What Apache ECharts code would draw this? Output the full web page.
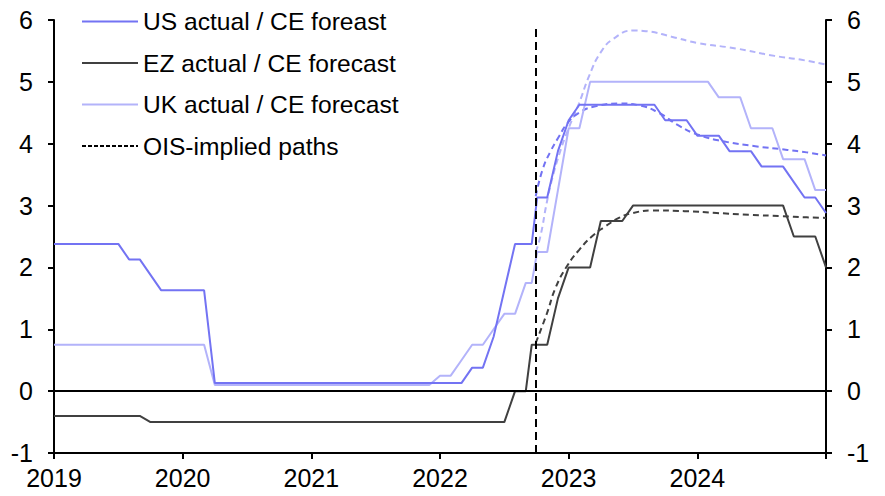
<!DOCTYPE html>
<html>
<head>
<meta charset="utf-8">
<script src="https://cdn.jsdelivr.net/npm/echarts@6/dist/echarts.min.js"></script>
<style>
html,body{margin:0;padding:0;background:#fff;}
#chart{width:885px;height:496px;}
</style>
</head>
<body>
<div id="chart"></div>
<script>
// ---- data (dates: 'YYYY-MM' = end of that month, or decimal year) ----
const legendNames = ['US actual / CE foreast', 'EZ actual / CE forecast', 'UK actual / CE forecast', 'OIS-implied paths'];
const xTicks = [2019, 2020, 2021, 2022, 2023, 2024];
const forecastDate = 2022.744;

const usDates = ['2018-12','2019-06','2019-07','2019-08','2019-09','2019-10','2020-02','2020-03','2022-02','2022-03','2022-04','2022-05','2022-06','2022-07','2022-08',2022.713,2022.755,'2022-10','2022-11','2022-12','2023-01','2023-08','2023-09','2023-11','2023-12','2024-02','2024-03','2024-05','2024-06','2024-08','2024-09','2024-10','2024-11','2024-12'];
const usValues = [2.38,2.38,2.13,2.13,1.88,1.63,1.63,0.13,0.13,0.38,0.38,0.88,1.63,2.38,2.38,2.38,3.13,3.13,3.88,4.38,4.63,4.63,4.38,4.38,4.13,4.13,3.88,3.88,3.63,3.63,3.38,3.13,3.13,2.88];

const ezDates = ['2018-12','2019-08','2019-09','2022-06','2022-07','2022-08',2022.713,'2022-10','2022-11','2022-12','2023-02','2023-03','2023-05','2023-06','2024-08','2024-09','2024-11','2024-12'];
const ezValues = [-0.4,-0.4,-0.5,-0.5,0,0,0.75,0.75,1.5,2.0,2.0,2.75,2.75,3.0,3.0,2.5,2.5,2.0];

const ukDates = ['2018-12','2020-02','2020-03','2021-11','2021-12','2022-01','2022-02','2022-03','2022-04','2022-05','2022-06','2022-07','2022-08',2022.713,2022.755,'2022-10','2022-11','2022-12','2023-01','2023-02','2024-01','2024-02','2024-04','2024-05','2024-07','2024-08','2024-10','2024-11','2024-12'];
const ukValues = [0.75,0.75,0.1,0.1,0.25,0.25,0.5,0.75,0.75,1.0,1.25,1.25,1.75,1.75,2.25,2.25,3.25,4.25,4.25,5.0,5.0,4.75,4.75,4.25,4.25,3.75,3.75,3.25,3.25];

const usOisDates = [2022.744,2022.80,2022.86,2022.92,2022.99,2023.08,2023.20,2023.40,2023.55,2023.70,2023.85,2024.00,2024.20,2024.45,2024.70,2024.85,2025.00];
const usOisValues = [3.15,3.60,3.88,4.10,4.33,4.50,4.60,4.65,4.62,4.50,4.30,4.15,4.04,3.96,3.90,3.86,3.81];

const ukOisDates = [2022.744,2022.78,2022.83,2022.87,2022.93,2022.99,2023.08,2023.16,2023.25,2023.35,2023.50,2023.60,2023.80,2024.00,2024.30,2024.60,2024.80,2025.00];
const ukOisValues = [2.25,2.50,3.05,3.42,3.85,4.20,4.65,5.10,5.48,5.70,5.83,5.82,5.73,5.63,5.54,5.42,5.36,5.28];

const ezOisDates = [2022.744,2022.83,2022.90,2022.99,2023.08,2023.18,2023.29,2023.39,2023.50,2023.65,2023.90,2024.15,2024.40,2024.65,2024.85,2025.00];
const ezOisValues = [0.78,1.25,1.68,2.03,2.28,2.50,2.67,2.80,2.88,2.92,2.91,2.88,2.85,2.83,2.81,2.80];

// ---- helpers ----
function toYear(d){
  if (typeof d === 'number') return d;
  const p = d.split('-');
  return Number(p[0]) + Number(p[1]) / 12;
}
function zip(dates, values){ return dates.map((d,i) => [toYear(d), values[i]]); }

const US = '#7373F3', EZ = '#404040', UK = '#B3B3FA';
const FONT = 'Liberation Sans, Arial, sans-serif';
const FS = 25;

const yAxisBase = {
  type: 'value', min: -1, max: 6, interval: 1,
  axisLine: {show: true, onZero: false, lineStyle: {color: '#000', width: 2}},
  axisTick: {show: true, inside: false, length: 6, lineStyle: {color: '#000', width: 2}},
  axisLabel: {color: '#000', fontSize: FS, fontFamily: FONT, margin: 21},
  splitLine: {show: false}
};

const chart = echarts.init(document.getElementById('chart'), null, {renderer: 'svg'});
chart.setOption({
  animation: false,
  backgroundColor: '#fff',
  grid: {left: 54, right: 59, top: 20, bottom: 43, containLabel: false},
  legend: {
    data: legendNames,
    orient: 'vertical', left: 81, top: 9, padding: 0,
    itemWidth: 56, itemHeight: 14, itemGap: 16.5,
    itemStyle: {opacity: 0},
    textStyle: {color: '#000', fontSize: 24.6, fontFamily: FONT, lineHeight: 25},
    selectedMode: false
  },
  xAxis: {
    type: 'value', min: 2019, max: 2025, interval: 1,
    axisLine: {show: true, onZero: false, lineStyle: {color: '#000', width: 2}},
    axisTick: {show: true, length: 6, lineStyle: {color: '#000', width: 2}},
    axisLabel: {color: '#000', fontSize: FS, fontFamily: FONT, margin: 12,
      formatter: v => xTicks.indexOf(v) >= 0 ? String(v) : ''},
    splitLine: {show: false}
  },
  yAxis: [
    Object.assign({}, yAxisBase, {position: 'left'}),
    Object.assign({}, yAxisBase, {position: 'right'})
  ],
  series: [
    {name: 'UK OIS', type: 'line', data: zip(ukOisDates, ukOisValues), symbol: 'none', smooth: true,
      lineStyle: {color: UK, width: 2, type: [6,4]}, itemStyle: {color: UK}, z: 2},
    {name: 'EZ OIS', type: 'line', data: zip(ezOisDates, ezOisValues), symbol: 'none', smooth: true,
      lineStyle: {color: EZ, width: 2, type: [6,4]}, itemStyle: {color: EZ}, z: 2},
    {name: 'US OIS', type: 'line', data: zip(usOisDates, usOisValues), symbol: 'none', smooth: true,
      lineStyle: {color: US, width: 2, type: [6,4]}, itemStyle: {color: US}, z: 2},
    {name: legendNames[2], type: 'line', data: zip(ukDates, ukValues), symbol: 'none',
      lineStyle: {color: UK, width: 2}, itemStyle: {color: UK}, z: 3},
    {name: legendNames[1], type: 'line', data: zip(ezDates, ezValues), symbol: 'none',
      lineStyle: {color: EZ, width: 2}, itemStyle: {color: EZ}, z: 3,
      markLine: {
        silent: true, symbol: 'none', label: {show: false},
        data: [
          {yAxis: 0, lineStyle: {color: '#000', width: 2, type: 'solid'}},
          [{coord: [forecastDate, -1], lineStyle: {color: '#000', width: 2, type: [8,5]}}, {coord: [forecastDate, 5.88]}]
        ]
      }},
    {name: legendNames[0], type: 'line', data: zip(usDates, usValues), symbol: 'none',
      lineStyle: {color: US, width: 2}, itemStyle: {color: US}, z: 4},
    {name: legendNames[3], type: 'line', data: [], symbol: 'none',
      lineStyle: {color: '#000', width: 1.5, type: [4,2]}, itemStyle: {color: '#000'}}
  ]
});
</script>
</body>
</html>
